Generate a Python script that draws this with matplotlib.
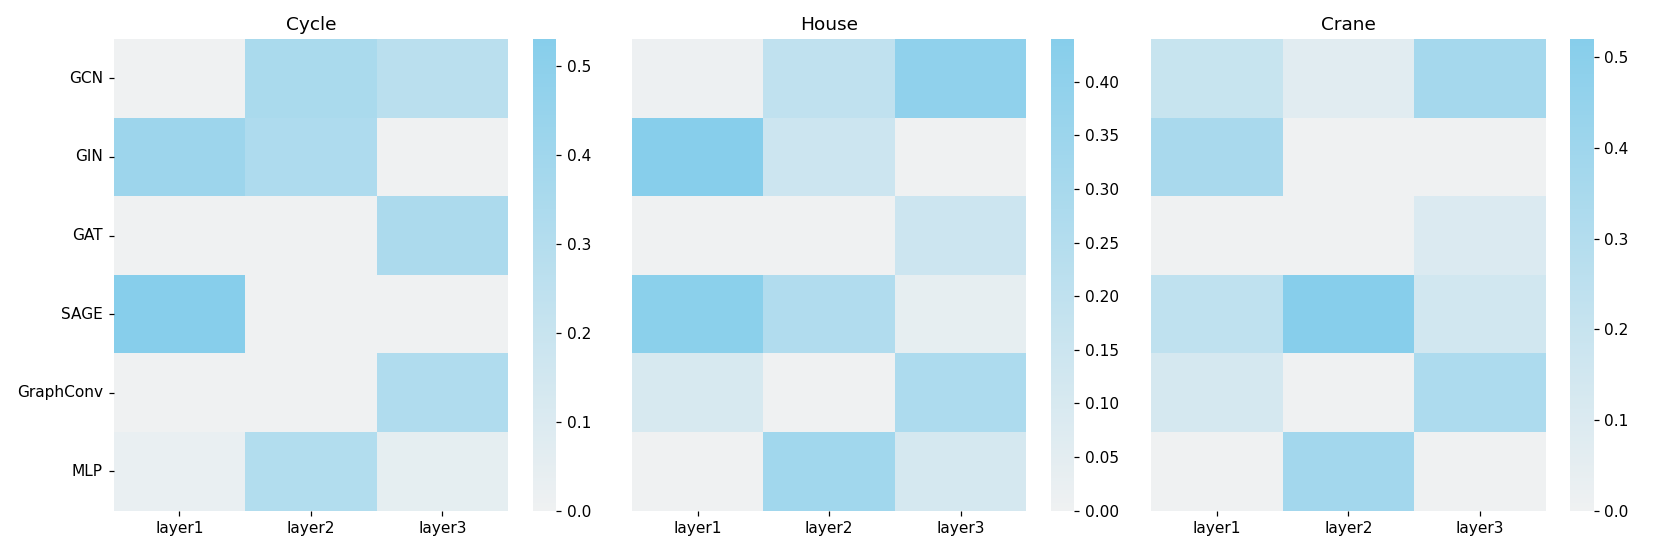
import numpy as np
import matplotlib
matplotlib.use("Agg")
import matplotlib.pyplot as plt
import seaborn as sns

models = ["GCN", "GIN", "GAT", "SAGE", "GraphConv", "MLP"]
layers = ["layer1", "layer2", "layer3"]
titles = ["Cycle", "House", "Crane"]

cycle = [
    [0.00, 0.35, 0.27],
    [0.42, 0.33, 0.00],
    [0.00, 0.00, 0.34],
    [0.53, 0.00, 0.00],
    [0.00, 0.00, 0.32],
    [0.03, 0.31, 0.05],
]
house = [
    [0.01, 0.20, 0.40],
    [0.44, 0.15, 0.00],
    [0.00, 0.00, 0.15],
    [0.42, 0.26, 0.04],
    [0.10, 0.00, 0.28],
    [0.00, 0.33, 0.11],
]
crane = [
    [0.20, 0.07, 0.37],
    [0.35, 0.00, 0.00],
    [0.00, 0.00, 0.10],
    [0.24, 0.52, 0.15],
    [0.13, 0.00, 0.33],
    [0.00, 0.38, 0.00],
]

datasets = [cycle, house, crane]

W, H = 1661, 554
DPI = W / 15.0
fig = plt.figure(figsize=(15.0, H / DPI), dpi=DPI)
cmap = sns.light_palette("skyblue", as_cmap=True)

ax_x = [113.7, 632.0, 1151.3]
cb_x = [532.7, 1051.0, 1570.3]
ax_w = 394.3
cb_w = 23.4
top, bot = 39.0, 510.7

for i, (data, title) in enumerate(zip(datasets, titles)):
    ax = fig.add_axes([ax_x[i] / W, 1 - bot / H, ax_w / W, (bot - top) / H])
    cax = fig.add_axes([cb_x[i] / W, 1 - bot / H, cb_w / W, (bot - top) / H])
    sns.heatmap(np.array(data), ax=ax, cbar_ax=cax, cmap=cmap,
                xticklabels=layers,
                yticklabels=models if i == 0 else False)
    ax.set_title(title, fontsize=12)
    ax.tick_params(axis="y", rotation=0, labelsize=10)
    ax.tick_params(axis="x", rotation=0, labelsize=10)
    cax.tick_params(labelsize=10)
    if i != 0:
        ax.tick_params(axis="y", left=False)

fig.savefig("out.png", dpi=DPI)
